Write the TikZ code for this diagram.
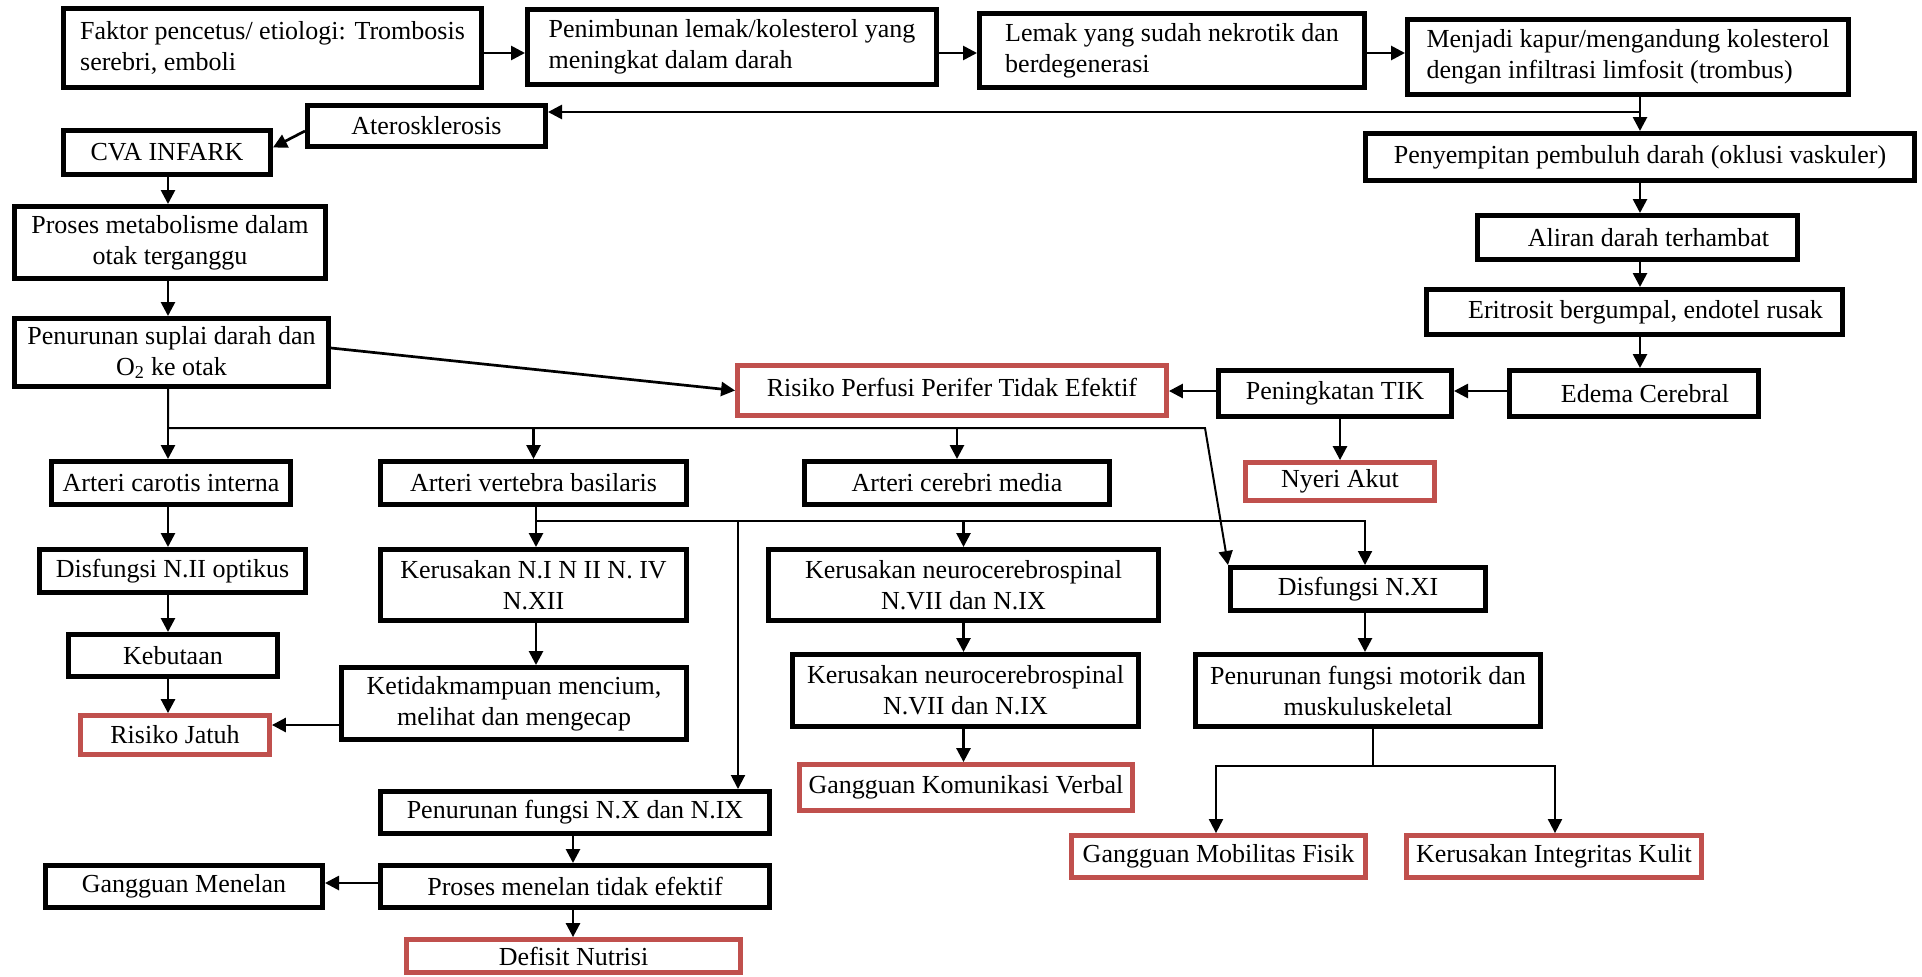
\documentclass[tikz,border=0pt]{standalone}
\usepackage{fontspec}
\setmainfont{Liberation Serif}
\usetikzlibrary{arrows.meta}
\definecolor{redc}{RGB}{192,80,77}
\begin{document}
\begin{tikzpicture}[x=1pt,y=-1pt,
  box/.style={draw=black, line width=5pt, rectangle, inner sep=1pt, align=center, fill=white, font=\fontsize{26}{31}\selectfont},
  rbox/.style={box, draw=redc, line width=4.8pt},
  conn/.style={line width=2.7pt},
  thinconn/.style={line width=2pt},
  arr/.style={conn, -{Triangle[length=14pt,width=14pt]}},
  thinarr/.style={thinconn, -{Triangle[length=14pt,width=14pt]}},
]
\useasboundingbox (0,0) rectangle (1922,977);

% ---- nodes ----
\node[box, align=left, minimum width=418pt, minimum height=79pt] (faktor) at (272.5,48) {Faktor pencetus/ etiologi: Trombosis\\serebri, emboli};
\node[box, align=left, minimum width=409pt, minimum height=75pt] (penimbunan) at (732,47) {Penimbunan lemak/kolesterol yang\\meningkat dalam darah};
\node[box, align=left, minimum width=385pt, minimum height=74pt] (lemak) at (1172,50.5) {Lemak yang sudah nekrotik dan\\berdegenerasi};
\node[box, align=left, minimum width=441pt, minimum height=75pt] (menjadi) at (1628,57) {Menjadi kapur/mengandung kolesterol\\dengan infiltrasi limfosit (trombus)};
\node[box, minimum width=238pt, minimum height=41pt] (ateros) at (426.5,126) {Aterosklerosis};
\node[box, minimum width=207pt, minimum height=44pt] (cva) at (167,152.5) {CVA INFARK};
\node[box, minimum width=311pt, minimum height=72pt] (proses) at (170,242.5) {Proses metabolisme dalam\\otak terganggu};
\node[box, minimum width=314pt, minimum height=68pt] (suplai) at (171.5,352.5) {Penurunan suplai darah dan\\O\textsubscript{2} ke otak};
\node[box, minimum width=549pt, minimum height=47pt] (penyempitan) at (1640,157) {Penyempitan pembuluh darah (oklusi vaskuler)};
\node[box, minimum width=320pt, minimum height=44pt] (aliran) at (1637.5,237.5) {\hspace*{22pt}Aliran darah terhambat};
\node[box, minimum width=416pt, minimum height=45pt] (eritrosit) at (1634.5,312) {\hspace*{22pt}Eritrosit bergumpal, endotel rusak};
\node[box, minimum width=249pt, minimum height=46pt] (edema) at (1634,393.5) {\hspace*{22pt}Edema Cerebral};
\node[box, minimum width=233pt, minimum height=46pt] (tik) at (1335,393.5) {Peningkatan TIK};
\node[rbox, minimum width=429pt, minimum height=50pt] (perfusi) at (952,390.5) {\raisebox{7pt}{Risiko Perfusi Perifer Tidak Efektif}};
\node[rbox, minimum width=189pt, minimum height=38pt] (nyeri) at (1340,481.5) {Nyeri Akut};
\node[box, minimum width=239pt, minimum height=43pt] (carotis) at (171,483) {Arteri carotis interna};
\node[box, minimum width=306pt, minimum height=43pt] (vertebra) at (533.5,483) {Arteri vertebra basilaris};
\node[box, minimum width=305pt, minimum height=43pt] (cerebri) at (957,483) {Arteri cerebri media};
\node[box, minimum width=266pt, minimum height=43pt] (disN2) at (172.5,571) {Disfungsi N.II optikus};
\node[box, minimum width=306pt, minimum height=71pt] (kerN1) at (533.5,585) {Kerusakan N.I N II N. IV\\N.XII};
\node[box, minimum width=390pt, minimum height=71pt] (neuro1) at (963.5,585) {Kerusakan neurocerebrospinal\\N.VII dan N.IX};
\node[box, minimum width=255pt, minimum height=43pt] (disN11) at (1358,589) {Disfungsi N.XI};
\node[box, minimum width=209pt, minimum height=42pt] (kebutaan) at (173,655.5) {Kebutaan};
\node[box, minimum width=345pt, minimum height=72pt] (ketidak) at (514,703.5) {Ketidakmampuan mencium,\\melihat dan mengecap};
\node[rbox, minimum width=189pt, minimum height=39pt] (jatuh) at (175,735) {Risiko Jatuh};
\node[box, minimum width=346pt, minimum height=72pt] (neuro2) at (965.5,690.5) {Kerusakan neurocerebrospinal\\N.VII dan N.IX};
\node[box, minimum width=345pt, minimum height=72pt] (motorik) at (1368,690.5) {Penurunan fungsi motorik dan\\muskuluskeletal};
\node[rbox, minimum width=333pt, minimum height=46pt] (komunikasi) at (966,787.5) {Gangguan Komunikasi Verbal};
\node[rbox, minimum width=294pt, minimum height=42pt] (mobilitas) at (1218.5,856.5) {Gangguan Mobilitas Fisik};
\node[rbox, minimum width=295pt, minimum height=42pt] (kulit) at (1554,856.5) {Kerusakan Integritas Kulit};
\node[box, minimum width=389pt, minimum height=42pt] (nX) at (575,812.5) {Penurunan fungsi N.X dan N.IX};
\node[box, minimum width=389pt, minimum height=42pt] (menelan) at (575,886.5) {Proses menelan tidak efektif};
\node[box, minimum width=277pt, minimum height=42pt] (gmenelan) at (184,886.5) {Gangguan Menelan};
\node[rbox, minimum width=334pt, minimum height=33pt] (defisit) at (573.5,956) {Defisit Nutrisi};

% ---- helper coordinates ----
\coordinate (cL) at (168,0);
\coordinate (cR) at (1640,0);
\coordinate (cM) at (573,0);
\coordinate (j1) at (1640,112);
\coordinate (b1) at (168,428);
\coordinate (b1e) at (1205,428);
\coordinate (b2) at (536,521);
\coordinate (b2m) at (738,521);
\coordinate (b2e) at (1365,521);
\coordinate (b3) at (1373,766);
\coordinate (b3l) at (1216,766);
\coordinate (b3r) at (1555,766);

% ---- connectors ----
\draw[arr] ([yshift=-5pt]faktor.east) -- ([yshift=-5pt]faktor.east -| penimbunan.west);
\draw[arr] ([yshift=-6pt]penimbunan.east) -- ([yshift=-6pt]penimbunan.east -| lemak.west);
\draw[arr] ([yshift=-2.5pt]lemak.east) -- ([yshift=-2.5pt]lemak.east -| menjadi.west);
\draw[arr] (menjadi.south -| cR) -- (penyempitan.north -| cR);
\draw[arr] (j1) -- (j1 -| ateros.east);
\draw[arr] ([yshift=-5pt]ateros.west) -- ([yshift=5pt]cva.east);
\draw[arr] (cva.south -| cL) -- (proses.north -| cL);
\draw[arr] (proses.south -| cL) -- (suplai.north -| cL);
\draw[arr] ([yshift=4.5pt]suplai.east) -- (perfusi.west);
\draw[arr] (penyempitan.south -| cR) -- (aliran.north -| cR);
\draw[arr] (aliran.south -| cR) -- (eritrosit.north -| cR);
\draw[arr] (eritrosit.south -| cR) -- (edema.north -| cR);
\draw[arr] ([yshift=2.5pt]edema.west) -- ([yshift=2.5pt]edema.west -| tik.east);
\draw[arr] ([yshift=2.5pt]tik.west) -- ([yshift=2.5pt]tik.west -| perfusi.east);
\draw[arr] (tik.south -| nyeri.north) -- (nyeri.north);

\draw[thinarr] (suplai.south -| cL) -- (b1) -- (b1e) -- (disN11.north west);
\draw[arr] (b1) -- (carotis.north -| cL);
\draw[arr] (b1 -| vertebra.north) -- (vertebra.north);
\draw[arr] (b1 -| cerebri.north) -- (cerebri.north);

\draw[arr] (carotis.south -| cL) -- (disN2.north -| cL);
\draw[arr] (disN2.south -| cL) -- (kebutaan.north -| cL);
\draw[arr] (kebutaan.south -| cL) -- (jatuh.north -| cL);

\draw[thinarr] (vertebra.south -| b2) -- (b2) -- (b2e) -- (disN11.north -| b2e);
\draw[arr] (b2) -- (kerN1.north -| b2);
\draw[arr] (b2 -| neuro1.north) -- (neuro1.north);
\draw[thinarr] (b2m) -- (nX.north -| b2m);
\draw[arr] (kerN1.south -| b2) -- (ketidak.north -| b2);
\draw[arr] ([yshift=-21.5pt]ketidak.west) -- ([yshift=-21.5pt]ketidak.west -| jatuh.east);

\draw[arr] (neuro1.south) -- (neuro1.south |- neuro2.north);
\draw[arr] (neuro2.south -| neuro1.south) -- (komunikasi.north -| neuro1.south);
\draw[arr] (disN11.south -| b2e) -- (motorik.north -| b2e);
\draw[thinconn] (motorik.south -| b3) -- (b3);
\draw[thinarr] (b3) -- (b3l) -- (mobilitas.north -| b3l);
\draw[thinarr] (b3) -- (b3r) -- (kulit.north -| b3r);

\draw[arr] (nX.south -| cM) -- (menelan.north -| cM);
\draw[arr] ([yshift=3.5pt]menelan.west) -- ([yshift=3.5pt]menelan.west -| gmenelan.east);
\draw[arr] (menelan.south -| cM) -- (defisit.north -| cM);
\end{tikzpicture}
\end{document}
